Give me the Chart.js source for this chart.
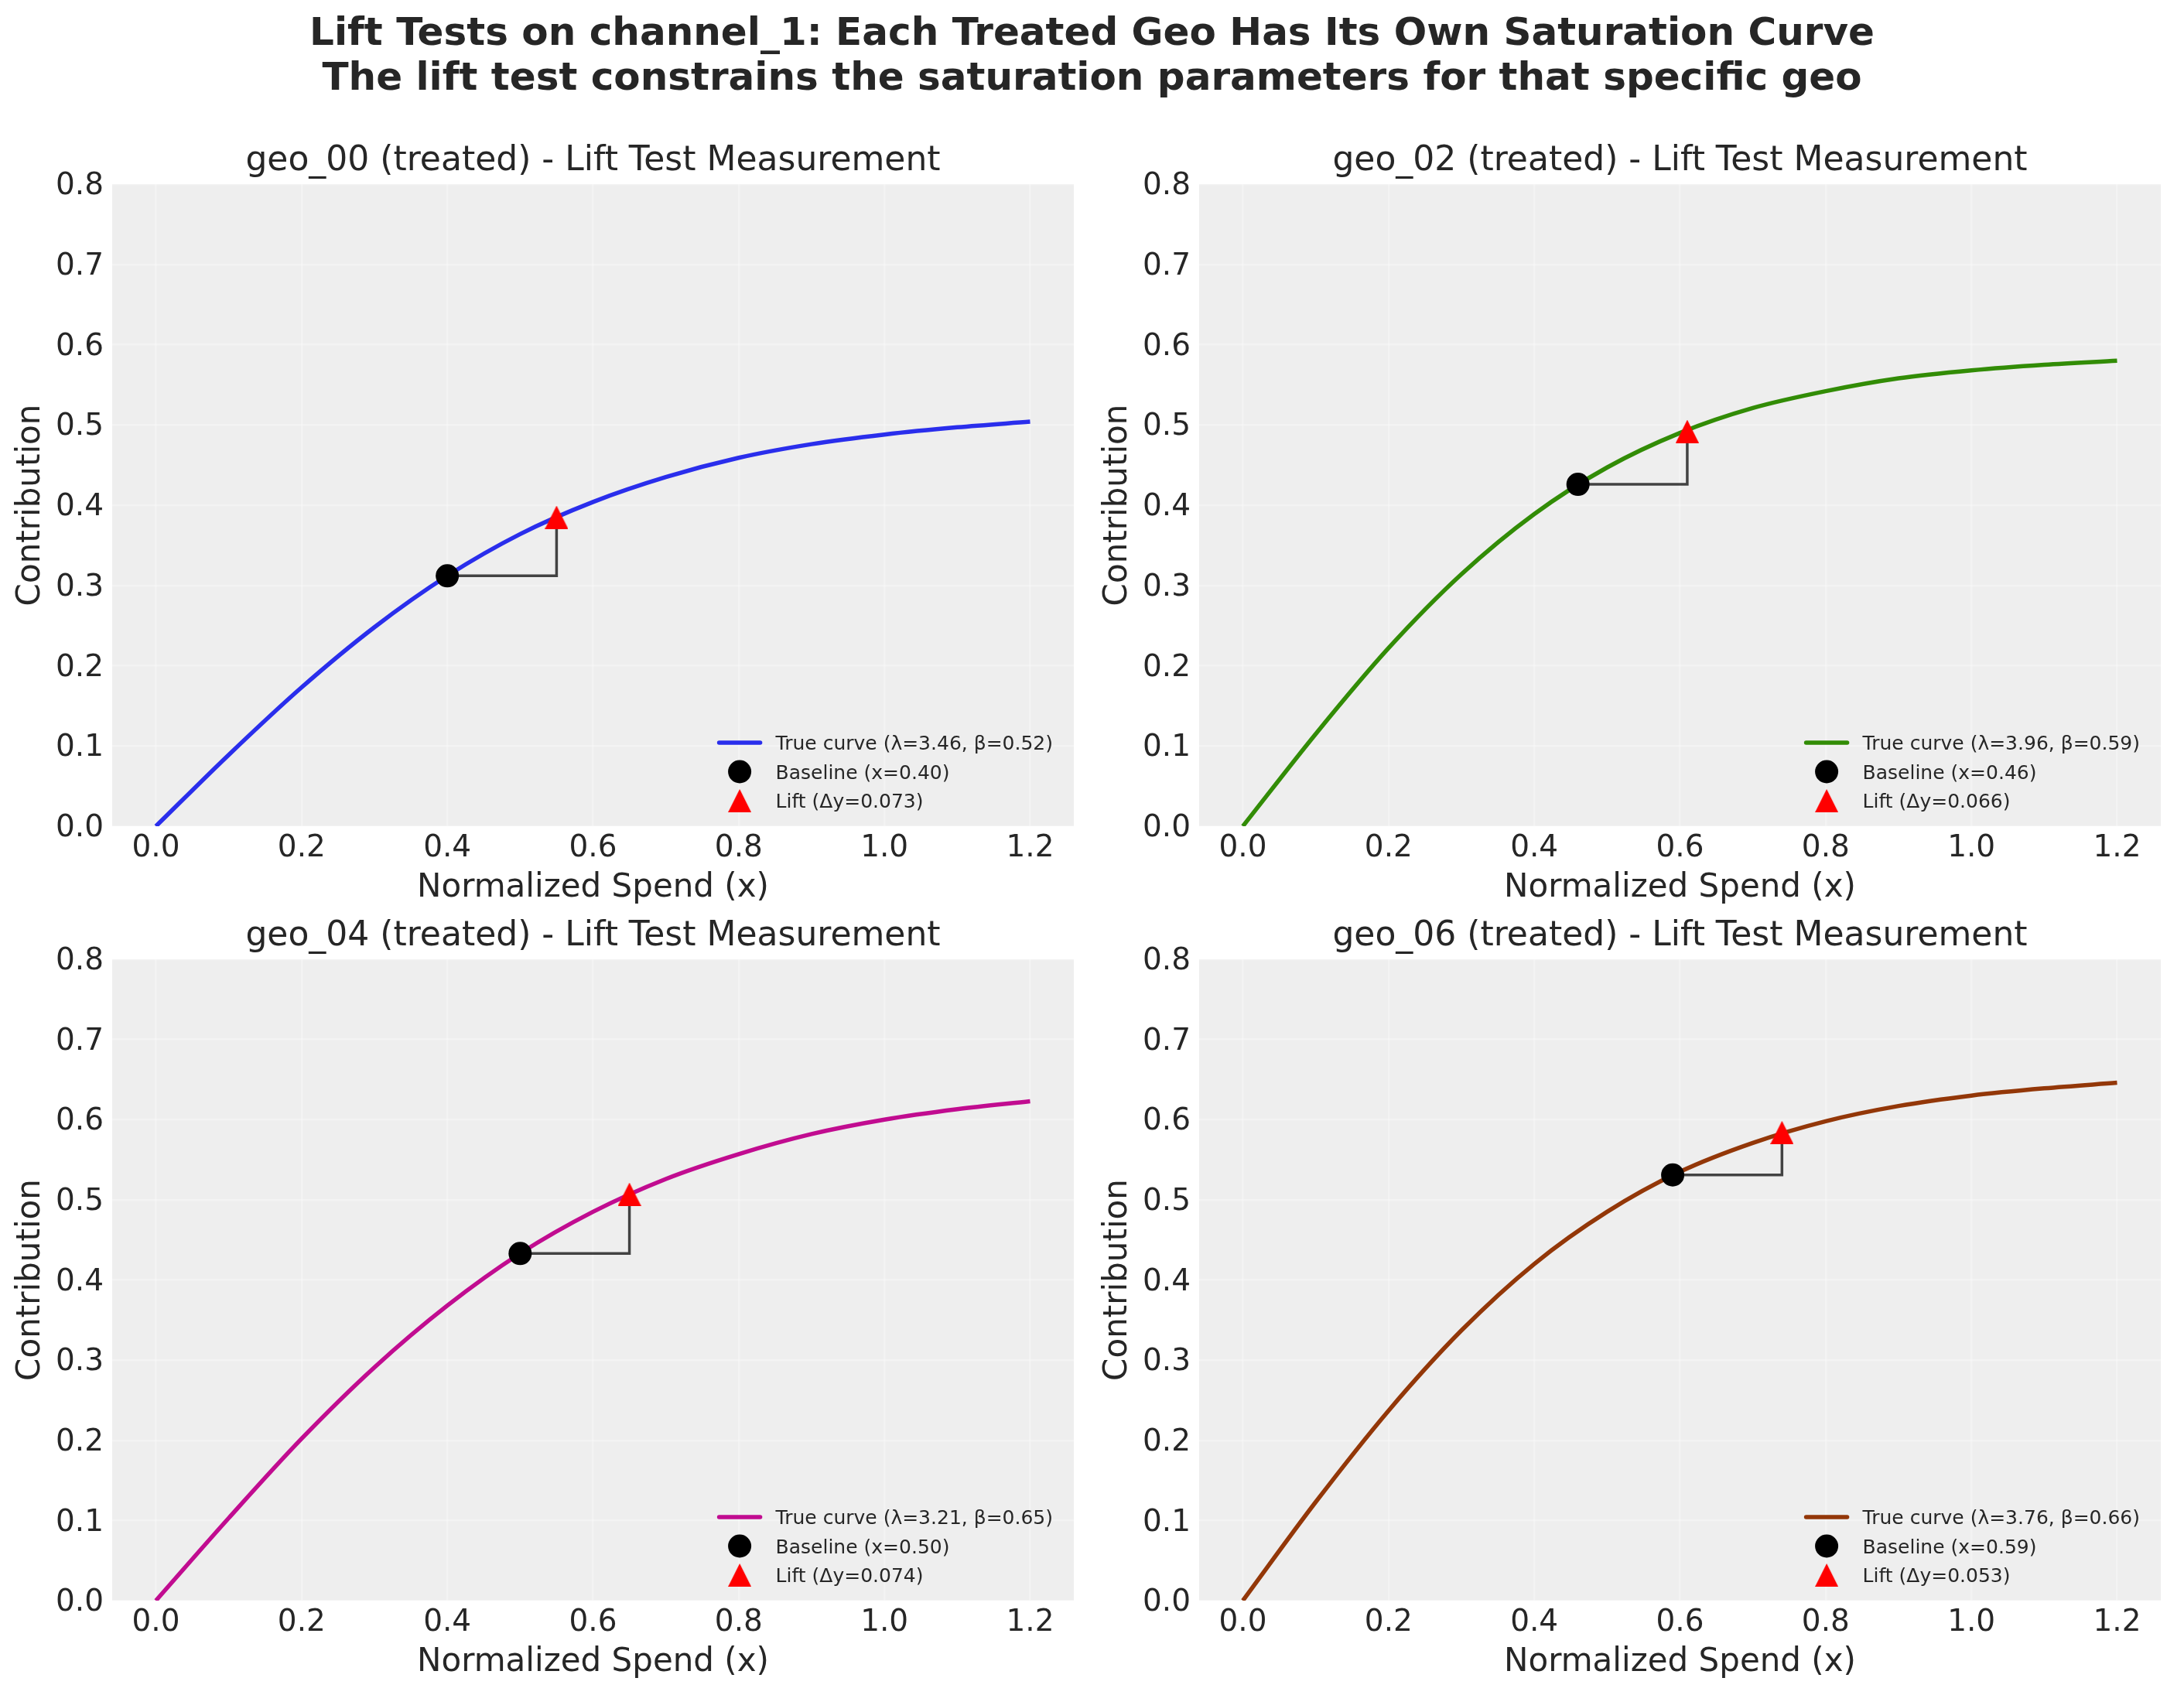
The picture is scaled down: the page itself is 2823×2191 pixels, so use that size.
<!DOCTYPE html>
<html>
<head>
<meta charset="utf-8">
<title>Lift Tests on channel_1</title>
<script src="https://cdn.jsdelivr.net/npm/chart.js@4.4.1/dist/chart.umd.min.js"></script>
<style>
  html, body { margin: 0; padding: 0; background: #fff; overflow: hidden; }
  #page { position: relative; width: 2823px; height: 2191px; }
  .suptitle {
    position: absolute; left: 0; top: 12px; width: 2823px;
    text-align: center; white-space: nowrap;
    font: bold 50px "DejaVu Sans"; line-height: 58px; color: #262626;
  }
  .panel { position: absolute; }
</style>
</head>
<body>
<div id="page">
  <div class="suptitle">Lift Tests on channel_1: Each Treated Geo Has Its Own Saturation Curve<br>The lift test constrains the saturation parameters for that specific geo</div>
  <div class="panel" id="panel0"><canvas id="chart0"></canvas></div>
  <div class="panel" id="panel1"><canvas id="chart1"></canvas></div>
  <div class="panel" id="panel2"><canvas id="chart2"></canvas></div>
  <div class="panel" id="panel3"><canvas id="chart3"></canvas></div>
</div>
<script>
// ---- data ----
const spendTicks = [0, 0.2, 0.4, 0.6, 0.8, 1.0, 1.2];
const contribTicks = [0, 0.1, 0.2, 0.3, 0.4, 0.5, 0.6, 0.7, 0.8];

const geoNames = ["geo_00", "geo_02", "geo_04", "geo_06"];
const lambdas = [3.46, 3.96, 3.21, 3.76];
const betas = [0.52, 0.59, 0.65, 0.66];

const spendGrid = [0, 0.1, 0.2, 0.3, 0.4, 0.5, 0.6, 0.7, 0.8, 0.9, 1.0, 1.1, 1.2];
const curveGeo00 = [0, 0.089, 0.173, 0.248, 0.312, 0.364, 0.404, 0.435, 0.459, 0.476, 0.488, 0.497, 0.504];
const curveGeo02 = [0, 0.115, 0.222, 0.314, 0.389, 0.447, 0.490, 0.521, 0.542, 0.558, 0.568, 0.575, 0.580];
const curveGeo04 = [0, 0.103, 0.202, 0.291, 0.368, 0.433, 0.485, 0.526, 0.557, 0.582, 0.600, 0.613, 0.623];
const curveGeo06 = [0, 0.123, 0.237, 0.337, 0.420, 0.485, 0.535, 0.571, 0.598, 0.617, 0.630, 0.639, 0.646];
const curves = [curveGeo00, curveGeo02, curveGeo04, curveGeo06];

const baselineX = [0.40, 0.46, 0.50, 0.59];
const baselineY = [0.312, 0.426, 0.433, 0.531];
const liftX = [0.55, 0.61, 0.65, 0.74];
const liftY = [0.385, 0.492, 0.507, 0.584];
const liftDelta = [0.073, 0.066, 0.074, 0.053];

// ---- styling / layout ----
const geoColors = ["#2a2eec", "#328c06", "#c10c90", "#933708"];
const textColor = "#262626";
const gridColor = "rgba(255,255,255,0.3)";
const plotLeft = [145, 1550];
const plotRight = [1398, 2803];
const plotTop = [238, 1240];
const plotBottom = [1068, 2069];
const yAxisW = 145, xAxisH = 115, titleH = 80, padRight = 5;

Chart.defaults.font.family = '"DejaVu Sans"';
Chart.defaults.color = textColor;

// matplotlib-like "^" marker: square bounding box, centred on the point
function triangleMarker(size, color) {
  const c = document.createElement("canvas");
  c.width = size; c.height = size;
  const g = c.getContext("2d");
  g.fillStyle = color;
  g.beginPath();
  g.moveTo(size / 2, 0);
  g.lineTo(size, size);
  g.lineTo(0, size);
  g.closePath();
  g.fill();
  return c;
}
const liftMarker = triangleMarker(30, "#ff0000");

const plotBackground = {
  id: "plotBackground",
  beforeDraw(chart) {
    const { ctx, chartArea: a } = chart;
    ctx.save();
    ctx.fillStyle = "#eeeeee";
    ctx.fillRect(a.left, a.top, a.width, a.height);
    ctx.restore();
  }
};

// legend drawn in the lower right corner of the plot area
const insideLegend = {
  id: "insideLegend",
  afterDatasetsDraw(chart, args, opts) {
    const { ctx, chartArea } = chart;
    const items = opts.items || [];
    ctx.save();
    ctx.font = '25px "DejaVu Sans"';
    const maxW = Math.max(...items.map(it => ctx.measureText(it.text).width));
    const textX = chartArea.right - 27 - maxW;
    const handleR = textX - 20;
    const handleL = handleR - 53;
    const hx = (handleL + handleR) / 2;
    items.forEach((it, i) => {
      const y = chartArea.bottom - 33 - (items.length - 1 - i) * 37.5;
      if (it.kind === "line") {
        ctx.strokeStyle = it.color;
        ctx.lineWidth = 5.5;
        ctx.lineCap = "round";
        ctx.beginPath();
        ctx.moveTo(handleL, y);
        ctx.lineTo(handleR, y);
        ctx.stroke();
      } else if (it.kind === "circle") {
        ctx.fillStyle = it.color;
        ctx.beginPath();
        ctx.arc(hx, y, 15, 0, Math.PI * 2);
        ctx.fill();
      } else {
        ctx.drawImage(liftMarker, hx - 15, y - 15);
      }
      ctx.fillStyle = textColor;
      ctx.textBaseline = "alphabetic";
      ctx.textAlign = "left";
      ctx.fillText(it.text, textX, y + 9);
    });
    ctx.restore();
  }
};

geoNames.forEach((geo, i) => {
  const col = i % 2, row = Math.floor(i / 2);
  const panel = document.getElementById("panel" + i);
  panel.style.left = (plotLeft[col] - yAxisW) + "px";
  panel.style.top = (plotTop[row] - titleH) + "px";
  panel.style.width = (plotRight[col] - plotLeft[col] + yAxisW + padRight) + "px";
  panel.style.height = (plotBottom[row] - plotTop[row] + titleH + xAxisH) + "px";

  const curvePoints = spendGrid.map((x, k) => ({ x: x, y: curves[i][k] }));
  const bracket = [
    { x: baselineX[i], y: baselineY[i] },
    { x: liftX[i], y: baselineY[i] },
    { x: liftX[i], y: liftY[i] }
  ];

  new Chart(document.getElementById("chart" + i), {
    type: "scatter",
    data: {
      datasets: [
        {
          label: "True curve",
          data: curvePoints,
          showLine: true,
          borderColor: geoColors[i],
          borderWidth: 5.5,
          pointRadius: 0,
          cubicInterpolationMode: "monotone",
          clip: 0,
          order: 3
        },
        {
          label: "bracket",
          data: bracket,
          showLine: true,
          borderColor: "rgba(0,0,0,0.72)",
          borderWidth: 3.5,
          pointRadius: 0,
          tension: 0,
          order: 2
        },
        {
          label: "Baseline",
          data: [{ x: baselineX[i], y: baselineY[i] }],
          pointRadius: 15,
          pointBackgroundColor: "#000000",
          pointBorderWidth: 0,
          order: 1
        },
        {
          label: "Lift",
          data: [{ x: liftX[i], y: liftY[i] }],
          pointStyle: liftMarker,
          order: 0
        }
      ]
    },
    options: {
      responsive: true,
      maintainAspectRatio: false,
      animation: false,
      events: [],
      layout: { padding: { left: 0, right: padRight, top: 0, bottom: 0 } },
      scales: {
        x: {
          type: "linear",
          min: -0.06,
          max: 1.26,
          afterBuildTicks: scale => { scale.ticks = spendTicks.map(v => ({ value: v })); },
          afterFit: scale => {
            scale.height = xAxisH;
            scale.paddingLeft = 0;
            scale.paddingRight = 0;
          },
          ticks: {
            autoSkip: false,
            maxRotation: 0,
            padding: 5,
            font: { size: 39 },
            callback: v => v.toFixed(1)
          },
          grid: { color: gridColor, lineWidth: 2.5, drawTicks: false },
          border: { display: false },
          title: {
            display: true,
            text: "Normalized Spend (x)",
            font: { size: 42, lineHeight: 1.2 },
            padding: { top: 0, bottom: 9.3 }
          }
        },
        y: {
          type: "linear",
          min: 0,
          max: 0.8,
          afterBuildTicks: scale => { scale.ticks = contribTicks.map(v => ({ value: v })); },
          afterFit: scale => {
            scale.width = yAxisW;
            scale.paddingTop = 0;
            scale.paddingBottom = 0;
          },
          ticks: {
            autoSkip: false,
            padding: 11,
            labelOffset: 3,
            font: { size: 39 },
            callback: v => v.toFixed(1)
          },
          grid: { color: gridColor, lineWidth: 2.5, drawTicks: false },
          border: { display: false },
          title: {
            display: true,
            text: "Contribution",
            font: { size: 42, lineHeight: 1.2 },
            padding: { top: 15.3, bottom: 0 }
          }
        }
      },
      plugins: {
        legend: { display: false },
        tooltip: { enabled: false },
        title: {
          display: true,
          fullSize: false,
          text: geo + " (treated) - Lift Test Measurement",
          font: { size: 44, weight: "normal", lineHeight: 1.2 },
          color: textColor,
          padding: { top: 24.2, bottom: 3 }
        },
        insideLegend: {
          items: [
            { kind: "line", color: geoColors[i], text: "True curve (\u03bb=" + lambdas[i].toFixed(2) + ", \u03b2=" + betas[i].toFixed(2) + ")" },
            { kind: "circle", color: "#000000", text: "Baseline (x=" + baselineX[i].toFixed(2) + ")" },
            { kind: "triangle", color: "#ff0000", text: "Lift (\u0394y=" + liftDelta[i].toFixed(3) + ")" }
          ]
        }
      }
    },
    plugins: [plotBackground, insideLegend]
  });
});
</script>
</body>
</html>
